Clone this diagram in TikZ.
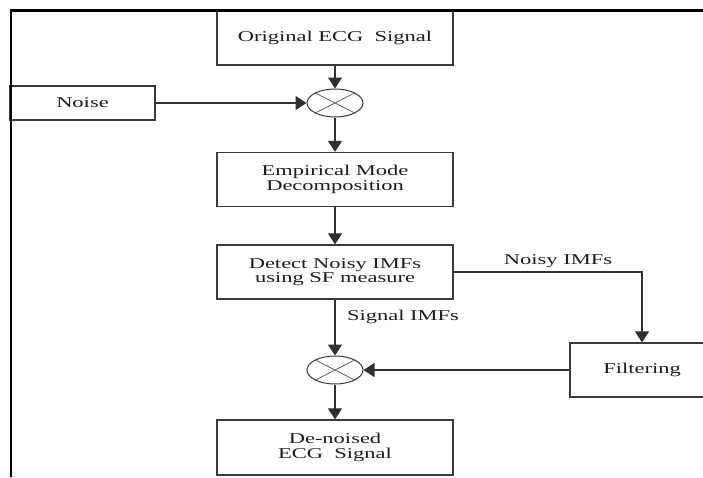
\documentclass[tikz,border=0pt]{standalone}
\usepackage{fontspec}
\newfontfamily\diafont[FakeStretch=1.5]{Liberation Serif}
\usetikzlibrary{shapes.geometric,arrows.meta}
\definecolor{boxgray}{HTML}{3A3A3A}
\definecolor{linegray}{HTML}{303030}
\definecolor{txtgray}{HTML}{1E1E1E}
\begin{document}
\begin{tikzpicture}[x=1pt,y=-1pt,
  box/.style={draw=boxgray, line width=1.3pt, rectangle, minimum width=236pt, minimum height=54pt, inner sep=0pt, align=center, text=txtgray, font=\diafont\fontsize{15}{14.5}\selectfont},
  mix/.style={draw=boxgray, line width=1pt, ellipse, minimum width=56pt, minimum height=28pt, inner sep=0pt},
  conn/.style={draw=linegray, line width=1.2pt, -{Triangle[length=11pt,width=14pt]}},
  lbl/.style={inner sep=0pt, anchor=base, text=txtgray, font=\diafont\fontsize{15}{14.5}\selectfont},
  crossln/.style={draw=boxgray!80, line width=0.8pt}]
\useasboundingbox (0,0) rectangle (703,477);
\clip (0,0) rectangle (703,477);
\fill[white] (0,0) rectangle (703,477);
% nodes
\node[box, minimum height=55pt] (orig) at (335,37.5) {Original ECG~~Signal};
\node[box, minimum width=145pt, minimum height=34pt] (noise) at (82.5,103) {Noise};
\node[mix] (c1) at (335,103) {};
\node[box] (emd) at (335,179.5) {Empirical Mode\\Decomposition};
\node[box] (detect) at (335,272) {Detect Noisy IMFs\\using SF measure};
\node[mix] (c2) at (335,370) {};
\node[box, minimum height=55pt] (den) at (335,447.5) {De-noised\\ECG~~Signal};
\node[box, minimum width=144pt] (filt) at (642,370) {Filtering};
% crosses
\foreach \c in {c1,c2}{
  \draw[crossln] (\c.north west) -- (\c.south east);
  \draw[crossln] (\c.north east) -- (\c.south west);
}
% connectors
\draw[conn] (orig.south) -- (c1.north);
\draw[conn] (noise.east) -- (c1.west);
\draw[conn] (c1.south) -- (emd.north);
\draw[conn] (emd.south) -- (detect.north);
\draw[conn] (detect.south) -- (c2.north);
\draw[conn] (c2.south) -- (den.north);
\draw[conn] (filt.west) -- (c2.east);
\draw[conn] (detect.east) -| (filt.north);
% labels
\node[lbl] (noisylbl) at (558,264) {Noisy IMFs};
\node[lbl] (siglbl) at (403,320) {Signal IMFs};
% frame
\draw[line width=2.5pt, black] (703,10.5) -- (11,10.5) -- (11,477);
\end{tikzpicture}
\end{document}
